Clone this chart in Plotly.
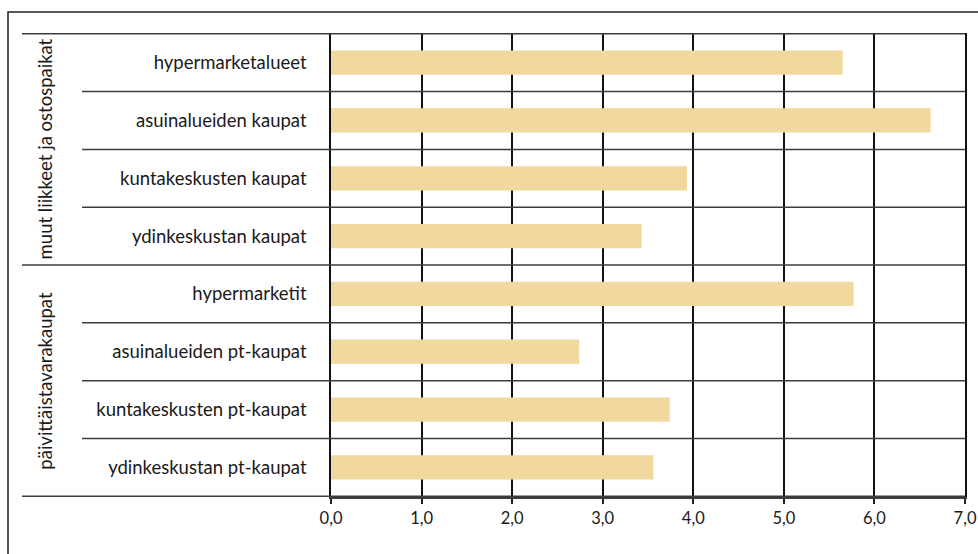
import plotly.graph_objects as go

# Categories from top to bottom, with their values
categories = [
    "hypermarketalueet",
    "asuinalueiden kaupat",
    "kuntakeskusten kaupat",
    "ydinkeskustan kaupat",
    "hypermarketit",
    "asuinalueiden pt-kaupat",
    "kuntakeskusten pt-kaupat",
    "ydinkeskustan pt-kaupat",
]
values = [5.65, 6.62, 3.93, 3.43, 5.77, 2.74, 3.74, 3.56]

groups = ["muut liikkeet ja ostospaikat", "päivittäistavarakaupat"]
group_sizes = [4, 4]

tick_vals = [0, 1, 2, 3, 4, 5, 6, 7]
tick_text = ["0,0", "1,0", "2,0", "3,0", "4,0", "5,0", "6,0", "7,0"]

W, H = 978, 554
ML, MR, MT, MB = 331, 13, 33, 57
PW = W - ML - MR
PH = H - MT - MB

FONT = "Lato"
TXT = "#1a1a1a"
LINE = "#3c3c3c"


def px_to_xpaper(px):
    return (px - ML) / PW


def py_to_ypaper(py):
    return (H - MB - py) / PH


fig = go.Figure(
    go.Bar(
        x=values,
        y=categories,
        orientation="h",
        marker=dict(color="#F1D89F", line=dict(width=0)),
        width=0.42,
        hoverinfo="x+y",
    )
)

shapes = []
# divider lines between categories, longer at group boundaries
pos = 0
edges = {-0.5}
for n in group_sizes:
    pos += n
    edges.add(pos - 0.5)
for i in range(len(categories) + 1):
    b = i - 0.5
    x0 = px_to_xpaper(22) if b in edges else px_to_xpaper(82)
    shapes.append(dict(type="line", xref="paper", yref="y", x0=x0, x1=1,
                       y0=b, y1=b, line=dict(color=LINE, width=1.5), layer="above"))

# outer frame
shapes.append(dict(type="rect", xref="paper", yref="paper",
                   x0=px_to_xpaper(8), x1=px_to_xpaper(W + 20),
                   y0=py_to_ypaper(H + 20), y1=py_to_ypaper(12),
                   line=dict(color="#222", width=1.5), fillcolor="rgba(0,0,0,0)"))

annotations = []
start = 0
for g, n in zip(groups, group_sizes):
    center = start + (n - 1) / 2
    annotations.append(dict(text=g, xref="paper", yref="y", x=px_to_xpaper(45), y=center,
                            textangle=-90, showarrow=False,
                            font=dict(family=FONT, size=18.5, color=TXT),
                            xanchor="center", yanchor="middle"))
    start += n

fig.update_layout(
    width=W, height=H,
    margin=dict(l=ML, r=MR, t=MT, b=MB, autoexpand=False),
    paper_bgcolor="white", plot_bgcolor="white",
    showlegend=False,
    bargap=0.58,
    shapes=shapes,
    annotations=annotations,
    font=dict(family=FONT, size=18.5, color=TXT),
)
fig.update_xaxes(
    range=[0, 7], tickvals=tick_vals, ticktext=tick_text,
    showgrid=True, gridcolor="#111", gridwidth=1.5,
    showline=True, linecolor=LINE, linewidth=1.5,
    ticks="outside", ticklen=5, tickcolor="#222", tickwidth=1.5,
    zeroline=False, fixedrange=True, automargin=False,
    tickfont=dict(family=FONT, size=16.5, color=TXT),
)
fig.update_yaxes(
    categoryorder="array", categoryarray=categories, autorange="reversed",
    showline=True, linecolor="#111", linewidth=1.5, mirror=True,
    showgrid=False, ticks="", ticklabelstandoff=19, automargin=False,
    tickfont=dict(family=FONT, size=18.5, color=TXT),
)

fig.write_html("out.html")
